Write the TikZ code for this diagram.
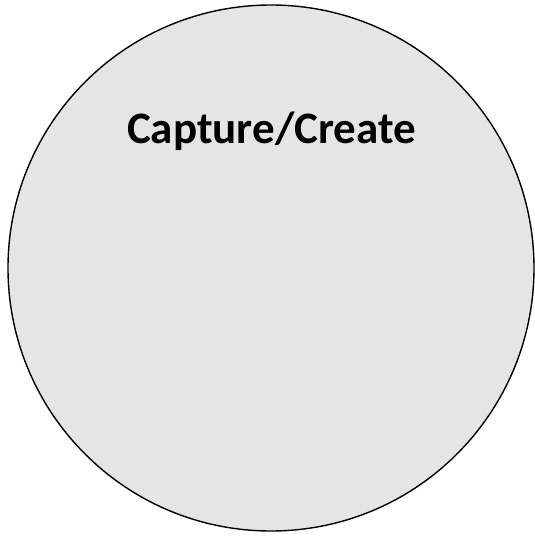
\documentclass[tikz,border=0pt]{standalone}
\usepackage{fontspec}
\setmainfont{Carlito}
\definecolor{circfill}{HTML}{E5E5E5}
\begin{document}
\begin{tikzpicture}[x=1pt,y=-1pt,
  circ/.style={circle,draw=black,line width=1.4pt,fill=circfill,minimum size=526pt,inner sep=0pt},
  lbl/.style={font=\fontsize{45}{50}\selectfont\bfseries,anchor=base}]
\useasboundingbox (0,0) rectangle (535,536);
\node[circ] (c) at (271,268) {};
\node[lbl] (t) at (271.5,143) {Capture/Create};
\end{tikzpicture}
\end{document}
